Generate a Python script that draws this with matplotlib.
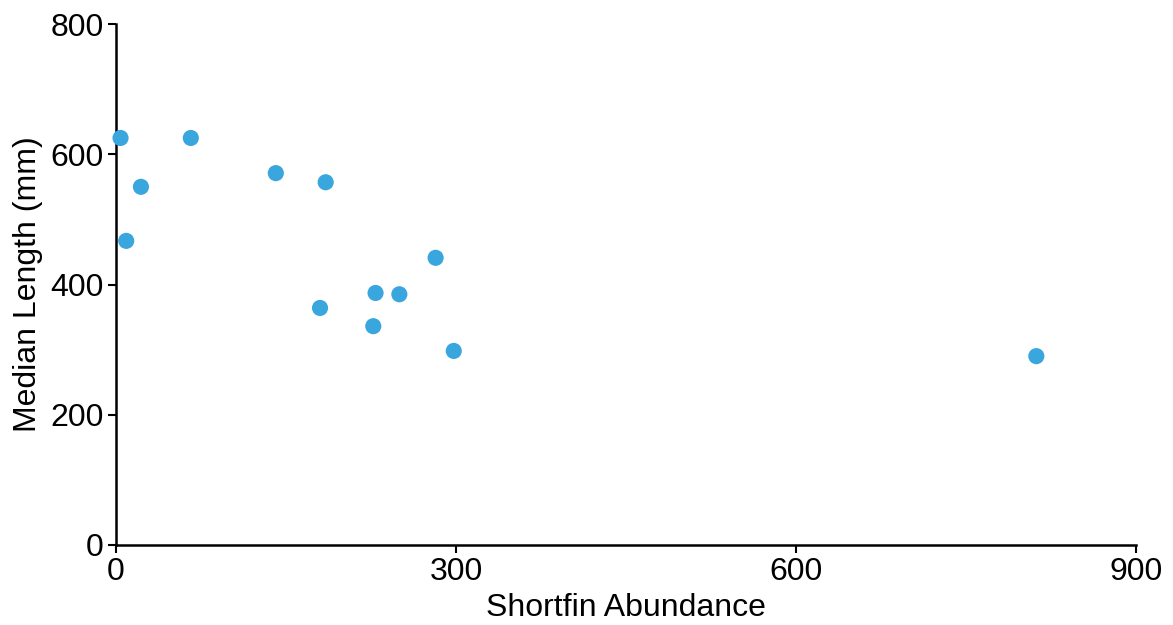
import matplotlib
matplotlib.use("Agg")
import matplotlib.pyplot as plt

# values
abundance = [4, 66, 22, 9, 141, 185, 180, 229, 227, 250, 282, 298, 812]
median_length = [625, 625, 550, 467, 571, 557, 364, 387, 336, 385, 441, 298, 290]
x_ticks = [0, 300, 600, 900]
y_ticks = [0, 200, 400, 600, 800]

plt.rcParams['font.family'] = ['Liberation Sans', 'DejaVu Sans']

fig = plt.figure(figsize=(11.73, 6.25), dpi=100)
ax = fig.add_axes([0.0989, 0.128, 0.8696, 0.8336])

ax.scatter(abundance, median_length, s=135, color='#3aa6de', edgecolors='none', zorder=3, clip_on=False)

ax.set_xlim(0, 900)
ax.set_ylim(0, 800)
ax.set_xticks(x_ticks)
ax.set_yticks(y_ticks)
ax.spines['top'].set_visible(False)
ax.spines['right'].set_visible(False)
for side in ['left', 'bottom']:
    ax.spines[side].set_linewidth(1.8)
ax.tick_params(length=6, width=1.5, labelsize=23, pad=3)

ax.set_xlabel("Shortfin Abundance", fontsize=23, labelpad=4)
ax.set_ylabel("Median Length (mm)", fontsize=23, labelpad=5)

fig.savefig("out.png", dpi=100)
